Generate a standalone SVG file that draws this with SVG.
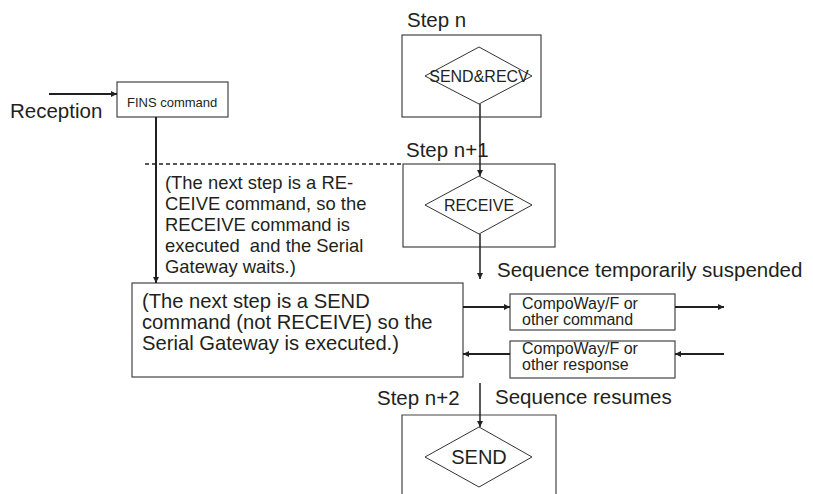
<svg xmlns="http://www.w3.org/2000/svg" width="813" height="494" viewBox="0 0 813 494">
<style>
text{font-family:"Liberation Sans",Arial,sans-serif;fill:#231f20}
.big{font-size:20.5px}
.mid{font-size:18.4px}
.sm{font-size:16px}
.xs{font-size:13px}
.box{fill:#fff;stroke:#444;stroke-width:1.2}
.dia{fill:#fff;stroke:#333;stroke-width:1}
.ln{fill:none;stroke:#231f20;stroke-width:2}
.thin{fill:none;stroke:#231f20;stroke-width:1.5}
</style>
<defs>
<marker id="ah" viewBox="0 0 10 10" refX="10" refY="5" markerWidth="9" markerHeight="6" markerUnits="userSpaceOnUse" orient="auto">
<path d="M0,0 L10,5 L0,10 Z" fill="#231f20"/>
</marker>
</defs>

<g id="reception">
<text class="big" x="10" y="118">Reception</text>
</g>
<g id="fins">
<rect class="box" x="117" y="82" width="111" height="35"/>
<text class="xs" x="127" y="107">FINS command</text>
</g>
<g id="step-n">
<text class="big" x="407" y="27">Step n</text>
<rect class="box" x="402" y="35" width="139" height="82"/>
<polygon class="dia" points="425,76 479,47 532,76 479,104"/>
<text class="sm" x="479" y="82" text-anchor="middle">SEND&amp;RECV</text>
</g>
<g id="step-n1">
<text class="big" x="406" y="157">Step n+1</text>
<rect class="box" x="403" y="164" width="152" height="83"/>
<polygon class="dia" points="425,205 479,176 532,205 479,234"/>
<text class="sm" x="479" y="211" text-anchor="middle">RECEIVE</text>
</g>
<g id="note-receive">
<text class="mid" x="165" y="189">(The next step is a RE-</text>
<text class="mid" x="165" y="210">CEIVE command, so the</text>
<text class="mid" x="165" y="231">RECEIVE command is</text>
<text class="mid" x="165" y="252">executed&#160; and the Serial</text>
<text class="mid" x="165" y="273">Gateway waits.)</text>
</g>
<g id="main-box">
<rect class="box" x="132" y="283" width="331" height="94"/>
<text class="big" x="142" y="308" style="font-size:20.2px">(The next step is a SEND</text>
<text class="big" x="142" y="329" style="font-size:20.2px">command (not RECEIVE) so the</text>
<text class="big" x="142" y="350" style="font-size:20.2px">Serial Gateway is executed.)</text>
</g>
<g id="suspended">
<text class="big" x="497" y="277">Sequence temporarily suspended</text>
</g>
<g id="cmd-box">
<rect class="box" x="510" y="294" width="165" height="36"/>
<text class="sm" x="522" y="309">CompoWay/F or</text>
<text class="sm" x="522" y="325">other command</text>
</g>
<g id="resp-box">
<rect class="box" x="510" y="341" width="165" height="37"/>
<text class="sm" x="522" y="354">CompoWay/F or</text>
<text class="sm" x="522" y="370">other response</text>
</g>
<g id="resumes">
<text class="big" x="495" y="404">Sequence resumes</text>
</g>
<g id="step-n2">
<text class="big" x="377" y="405">Step n+2</text>
<path class="box" d="M402,496 V415 H556 V496"/>
<polygon class="dia" points="425,457 479,427 532,457 479,487"/>
<text style="font-size:20px" x="479" y="464" text-anchor="middle">SEND</text>
</g>

<g id="connectors">
<line class="ln" x1="49" y1="94" x2="117" y2="94" marker-end="url(#ah)"/>
<line class="ln" x1="156" y1="117" x2="156" y2="283" marker-end="url(#ah)"/>
<line x1="145" y1="164" x2="403" y2="164" stroke="#231f20" stroke-width="1.5" stroke-dasharray="4,3"/>
<line class="thin" x1="480" y1="104" x2="480" y2="176" marker-end="url(#ah)"/>
<line class="thin" x1="480" y1="234" x2="480" y2="279" marker-end="url(#ah)"/>
<line class="ln" x1="463" y1="307" x2="510" y2="307" marker-end="url(#ah)"/>
<line class="ln" x1="675" y1="307" x2="724" y2="307" marker-end="url(#ah)"/>
<line class="ln" x1="724" y1="354" x2="675" y2="354" marker-end="url(#ah)"/>
<line class="ln" x1="510" y1="354" x2="463" y2="354" marker-end="url(#ah)"/>
<line class="thin" x1="480" y1="383" x2="480" y2="427" marker-end="url(#ah)"/>
</g>
</svg>
